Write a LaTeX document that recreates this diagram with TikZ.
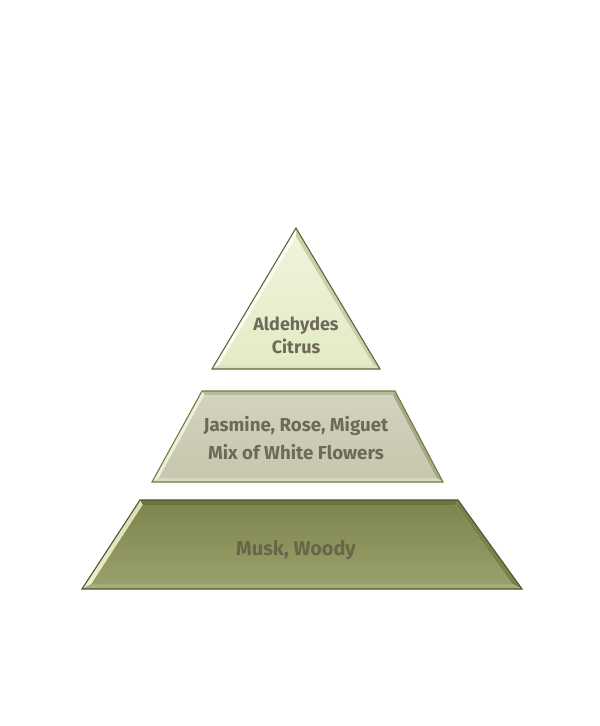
\documentclass[tikz,border=0pt]{standalone}
\usepackage{fontspec}
\setmainfont{Fira Sans}
\definecolor{txtc}{HTML}{6D6A58}
\definecolor{txtb}{HTML}{676649}
\definecolor{tL}{HTML}{FBFDF2}\definecolor{tR}{HTML}{C9D0AA}\definecolor{tD}{HTML}{DCE3BE}
\definecolor{tiT}{HTML}{EFF4DA}\definecolor{tiB}{HTML}{E4EBC6}\definecolor{tE}{HTML}{5F6638}
\definecolor{mU}{HTML}{B9B99F}\definecolor{mL}{HTML}{EEEEE0}\definecolor{mR}{HTML}{A7A78C}\definecolor{mD}{HTML}{D9D9C5}
\definecolor{miT}{HTML}{D3D3BE}\definecolor{miB}{HTML}{C7C7AF}\definecolor{mE}{HTML}{6E7F3A}
\definecolor{bU}{HTML}{6C733F}\definecolor{bLT}{HTML}{D9DCB0}\definecolor{bLB}{HTML}{EEF0CF}
\definecolor{bR}{HTML}{7B8249}\definecolor{bD}{HTML}{A7AD78}
\definecolor{biT}{HTML}{7E854E}\definecolor{biB}{HTML}{9AA06A}\definecolor{bE}{HTML}{4E5430}
\begin{document}
\begin{tikzpicture}[x=1bp,y=-1bp,
  lbl/.style={font=\fontsize{18}{23}\selectfont\bfseries, text=txtc, align=center, inner sep=0pt},
  edge/.style={line width=1.1bp, line join=miter}]
\useasboundingbox (0,0) rectangle (600,726);
\fill[white] (0,0) rectangle (600,726);
% ---------- top triangle ----------
\coordinate (ta) at (296,228); \coordinate (tb) at (212,369); \coordinate (tc) at (380,369);
\coordinate (ia) at (296,237); \coordinate (ib) at (219,365); \coordinate (ic) at (373,365);
\fill[tL] (ta) -- (ia) -- (ib) -- (tb) -- cycle;
\fill[tR] (ta) -- (tc) -- (ic) -- (ia) -- cycle;
\fill[tD] (tb) -- (ib) -- (ic) -- (tc) -- cycle;
\shade[top color=tiT, bottom color=tiB] (ia) -- (ic) -- (ib) -- cycle;
\draw[edge, tE] (ta) -- (tc) -- (tb) -- cycle;
\node[lbl] (top) at (296,335) {Aldehydes\\Citrus};
% ---------- middle trapezoid ----------
\coordinate (m1) at (202,391); \coordinate (m2) at (395,391); \coordinate (m3) at (443,482); \coordinate (m4) at (152,482);
\coordinate (n1) at (204.4,395); \coordinate (n2) at (392.6,395); \coordinate (n3) at (436.4,478); \coordinate (n4) at (158.8,478);
\fill[mU] (m1) -- (m2) -- (n2) -- (n1) -- cycle;
\fill[mL] (m1) -- (n1) -- (n4) -- (m4) -- cycle;
\fill[mR] (m2) -- (m3) -- (n3) -- (n2) -- cycle;
\fill[mD] (m4) -- (n4) -- (n3) -- (m3) -- cycle;
\shade[top color=miT, bottom color=miB] (n1) -- (n2) -- (n3) -- (n4) -- cycle;
\draw[edge, mE] (m1) -- (m2) -- (m3) -- (m4) -- cycle;
\node[lbl, font=\fontsize{18.8}{28}\selectfont\bfseries] (mid) at (296,438) {Jasmine, Rose, Miguet\\Mix of White Flowers};
% ---------- bottom trapezoid ----------
\coordinate (b1) at (140,500); \coordinate (b2) at (458,500); \coordinate (b3) at (522,589); \coordinate (b4) at (82,589);
\coordinate (c1) at (142.7,505); \coordinate (c2) at (455.4,505); \coordinate (c3) at (512.2,584); \coordinate (c4) at (91.3,584);
\fill[bU] (b1) -- (b2) -- (c2) -- (c1) -- cycle;
\shade[top color=bLT, bottom color=bLB] (b1) -- (c1) -- (c4) -- (b4) -- cycle;
\fill[bR] (b2) -- (b3) -- (c3) -- (c2) -- cycle;
\fill[bD] (b4) -- (c4) -- (c3) -- (b3) -- cycle;
\shade[top color=biT, bottom color=biB] (c1) -- (c2) -- (c3) -- (c4) -- cycle;
\draw[edge, bE] (b1) -- (b2) -- (b3) -- (b4) -- cycle;
\node[lbl, text=txtb, font=\fontsize{20}{24}\selectfont\bfseries] (bot) at (296,550) {Musk, Woody};
\end{tikzpicture}
\end{document}
